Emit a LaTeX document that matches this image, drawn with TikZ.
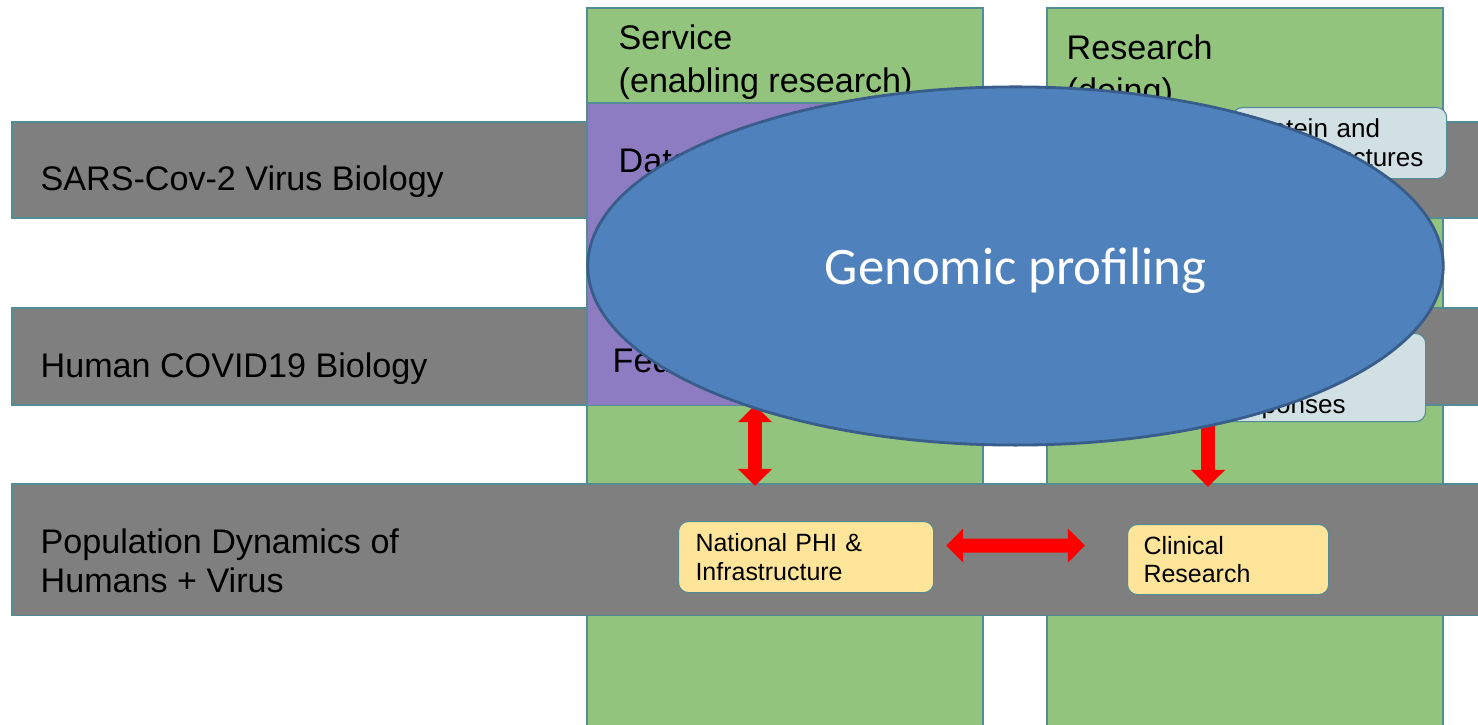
\documentclass[tikz,border=0pt]{standalone}
\usepackage{fontspec}
\setmainfont{Liberation Sans}
\newfontfamily\calibri{Carlito}
\usetikzlibrary{shapes.geometric,arrows.meta,positioning}

\definecolor{colgreen}{RGB}{147,196,125}
\definecolor{bandgrey}{RGB}{127,127,127}
\definecolor{svcpurple}{RGB}{142,124,195}
\definecolor{genblue}{RGB}{79,129,189}
\definecolor{genedge}{RGB}{56,93,138}
\definecolor{boxyellow}{RGB}{255,229,153}
\definecolor{boxblue}{RGB}{208,224,227}
\definecolor{edgeteal}{RGB}{84,140,150}
\definecolor{arrowred}{RGB}{255,0,0}

\tikzset{
  colfill/.style={fill=colgreen, draw=edgeteal, line width=0.3pt},
  band/.style={fill=bandgrey, draw=edgeteal, line width=0.3pt, inner sep=0pt, outer sep=0pt},
  bandtext/.style={anchor=west, align=left, inner sep=0pt, font=\fontsize{9.7}{11.1}\selectfont},
  headtext/.style={anchor=west, align=left, inner sep=0pt, font=\fontsize{9.7}{12.2}\selectfont},
  lightbox/.style={fill=boxblue, draw=edgeteal, line width=0.3pt, rounded corners=0.1cm, anchor=north west,
    align=left, inner ysep=0pt, font=\fontsize{7.4}{8.3}\selectfont},
  yellowbox/.style={fill=boxyellow, draw=edgeteal, line width=0.3pt, rounded corners=0.1cm, anchor=north west,
    align=left, inner ysep=0pt, font=\fontsize{7.1}{8.2}\selectfont},
  blockarrow/.style={draw=arrowred, line width=0.14cm},
  genome/.style={ellipse, fill=genblue, draw=genedge, line width=0.8pt, inner sep=0pt, text depth=0pt,
    minimum width=8.55cm, minimum height=3.58cm, text=white, font=\calibri\fontsize{15}{18}\selectfont}
}

\begin{document}
\begin{tikzpicture}[x=0.01cm, y=-0.01cm, >={Triangle[length=0.17cm,width=0.33cm]}]
  \clip (0,0) rectangle (1478,725);
  \fill [white] (0,0) rectangle (1478,725);
  % columns
  \filldraw [colfill] (587,8) rectangle (983,740);
  \filldraw [colfill] (1047,8) rectangle (1443,740);
  \node [headtext] (servicehead) at (618,62) {Service\\(enabling research)};
  \node [headtext] (researchhead) at (1066,72) {Research\\(doing)};
  % bands
  \filldraw [band] (12,122) rectangle (1490,218);
  \filldraw [band] (12,308) rectangle (1490,405);
  \node [bandtext] (virustext) at (40,182) {SARS-Cov-2 Virus Biology};
  \node [bandtext] (humantext) at (40,369) {Human COVID19 Biology};
  % service box
  \node [band, fill=svcpurple, anchor=north west, minimum width=3.96cm, minimum height=3.02cm] (datasvc) at (587,103) {};
  \node [bandtext] (datatext) at (618,161) {Data};
  \node [bandtext] (fedtext) at (612,360) {Federated};
  % population band
  \node [band, anchor=north west, minimum width=14.9cm, minimum height=1.31cm] (popband) at (12,484) {};
  \node [bandtext] (poptext) at (40,561) {Population Dynamics of\\Humans + Virus};
  % boxes
  \node [lightbox, minimum width=2.14cm, minimum height=0.71cm, inner xsep=0.13cm, text width=1.88cm] (protbox) at (1232,107) {Protein and\\RNA structures};
  \node [lightbox, minimum width=2.15cm, minimum height=0.88cm, inner xsep=0.15cm, text width=1.85cm] (hostbox) at (1210,333) {Host and\\immune\\responses};
  \node [yellowbox, minimum width=2.55cm, minimum height=0.71cm, inner xsep=0.17cm, text width=2.21cm] (phibox) at (678,521) {National PHI \&\\Infrastructure};
  \node [yellowbox, minimum width=2.01cm, minimum height=0.70cm, inner xsep=0.16cm, text width=1.69cm] (clinbox) at (1127,524) {Clinical\\Research};
  % arrows
  \coordinate (svcfoot) at (755,486);
  \coordinate (resfoot) at (1208,487);
  \draw [blockarrow, <->] (svcfoot |- datasvc.south) -- (svcfoot);
  \draw [blockarrow, ->] (resfoot |- hostbox.south) -- (resfoot);
  \draw [blockarrow, <->, shorten <=0.12cm, shorten >=0.42cm] ([yshift=0.115cm]phibox.east) -- ([yshift=0.14cm]clinbox.west);
  % Genomic profiling
  \node [genome] (genomic) at (1015.5,266) {Genomic profiling};
\end{tikzpicture}
\end{document}
